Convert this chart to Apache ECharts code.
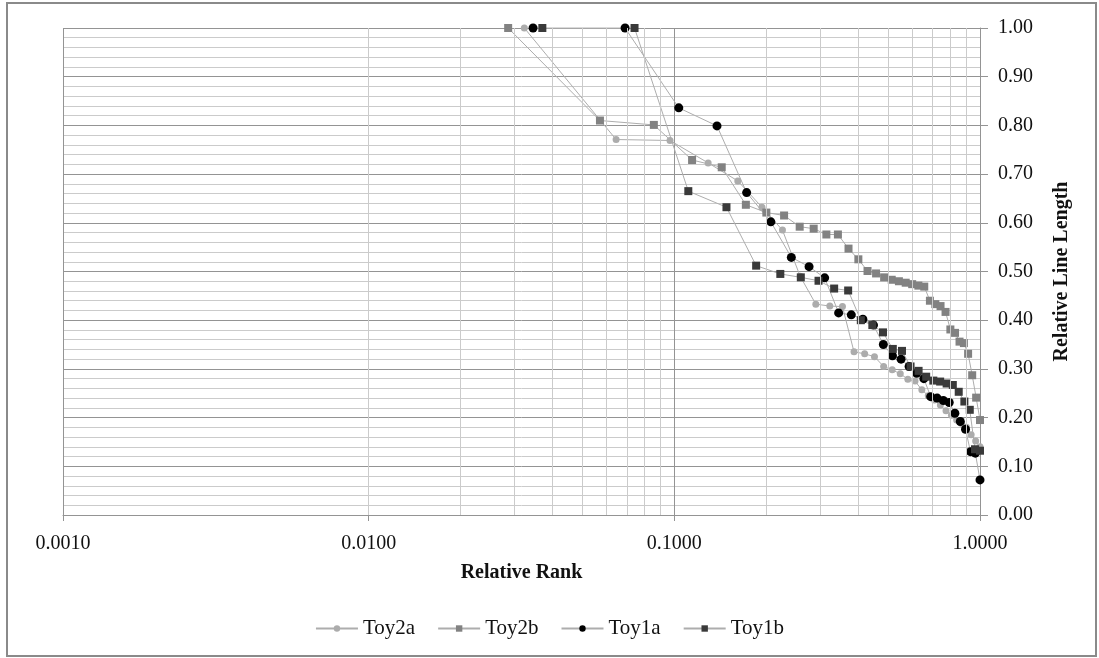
<!DOCTYPE html>
<html>
<head>
<meta charset="utf-8">
<title>Relative Line Length vs Relative Rank</title>
<script src="https://cdn.jsdelivr.net/npm/echarts@6/dist/echarts.min.js"></script>
<style>
  html, body { margin: 0; padding: 0; background: #fff; }
  #chart { width: 1099px; height: 658px; }
</style>
</head>
<body>
<div id="chart"></div>
<script>
// Relative rank (rank / count) for each series
const toy2aRank = [0.0323, 0.0645, 0.0968, 0.1290, 0.1613, 0.1935, 0.2258, 0.2581, 0.2903, 0.3226,
  0.3548, 0.3871, 0.4194, 0.4516, 0.4839, 0.5161, 0.5484, 0.5806, 0.6129, 0.6452,
  0.6774, 0.7097, 0.7419, 0.7742, 0.8065, 0.8387, 0.8710, 0.9032, 0.9355, 0.9677, 1.0000];
const toy2aLength = [1.00, 0.771, 0.769, 0.723, 0.686, 0.632, 0.585, 0.490, 0.433, 0.429,
  0.428, 0.335, 0.331, 0.325, 0.305, 0.298, 0.290, 0.279, 0.275, 0.257,
  0.245, 0.236, 0.226, 0.214, 0.205, 0.195, 0.188, 0.180, 0.165, 0.152, 0.140];

const toy2bRank = [0.0286, 0.0571, 0.0857, 0.1143, 0.1429, 0.1714, 0.2000, 0.2286, 0.2571, 0.2857,
  0.3143, 0.3429, 0.3714, 0.4000, 0.4286, 0.4571, 0.4857, 0.5143, 0.5429, 0.5714,
  0.6000, 0.6286, 0.6571, 0.6857, 0.7143, 0.7429, 0.7714, 0.8000, 0.8286, 0.8571,
  0.8857, 0.9143, 0.9429, 0.9714, 1.0000];
const toy2bLength = [1.00, 0.810, 0.801, 0.729, 0.714, 0.637, 0.621, 0.615, 0.592, 0.588,
  0.576, 0.576, 0.547, 0.525, 0.501, 0.496, 0.488, 0.483, 0.480, 0.477,
  0.474, 0.471, 0.469, 0.440, 0.433, 0.429, 0.417, 0.381, 0.374, 0.356,
  0.353, 0.331, 0.287, 0.241, 0.195];

const toy1aRank = [0.0345, 0.0690, 0.1034, 0.1379, 0.1724, 0.2069, 0.2414, 0.2759, 0.3103, 0.3448,
  0.3793, 0.4138, 0.4483, 0.4828, 0.5172, 0.5517, 0.5862, 0.6207, 0.6552, 0.6897,
  0.7241, 0.7586, 0.7931, 0.8276, 0.8621, 0.8966, 0.9310, 0.9655, 1.0000];
const toy1aLength = [1.00, 1.00, 0.836, 0.799, 0.662, 0.602, 0.529, 0.510, 0.487, 0.415,
  0.411, 0.402, 0.390, 0.350, 0.327, 0.320, 0.305, 0.291, 0.280, 0.243,
  0.240, 0.235, 0.231, 0.209, 0.192, 0.176, 0.130, 0.127, 0.072];

const toy1bRank = [0.0370, 0.0741, 0.1111, 0.1481, 0.1852, 0.2222, 0.2593, 0.2963, 0.3333, 0.3704,
  0.4074, 0.4444, 0.4815, 0.5185, 0.5556, 0.5926, 0.6296, 0.6667, 0.7037, 0.7407,
  0.7778, 0.8148, 0.8519, 0.8889, 0.9259, 0.9630, 1.0000];
const toy1bLength = [1.00, 1.00, 0.665, 0.632, 0.512, 0.495, 0.488, 0.481, 0.465, 0.461,
  0.400, 0.390, 0.375, 0.341, 0.337, 0.305, 0.296, 0.284, 0.276, 0.274,
  0.270, 0.267, 0.253, 0.233, 0.216, 0.135, 0.132];

const seriesNames = ['Toy2a', 'Toy2b', 'Toy1a', 'Toy1b'];

// Minor vertical grid positions on the log axis (2..9 within each decade)
const minorRankTicks = [0.002, 0.003, 0.004, 0.005, 0.006, 0.007, 0.008, 0.009,
  0.02, 0.03, 0.04, 0.05, 0.06, 0.07, 0.08, 0.09,
  0.2, 0.3, 0.4, 0.5, 0.6, 0.7, 0.8, 0.9];

const FONT = '"Liberation Serif", "Times New Roman", serif';
const LINK = '#adadad';
const MAJOR = '#949494';
const MINOR = '#cbcbcb';

function pairs(xs, ys) { return xs.map((x, i) => [x, ys[i]]); }

function makeSeries(name, xs, ys, symbol, size, color) {
  return {
    name: name,
    type: 'line',
    data: pairs(xs, ys),
    symbol: symbol,
    symbolSize: size,
    showSymbol: true,
    z: 3,
    lineStyle: { color: LINK, width: 1 },
    itemStyle: { color: color, borderWidth: 0 },
    emphasis: { disabled: true },
    animation: false
  };
}

const chart = echarts.init(document.getElementById('chart'), null, { renderer: 'canvas' });

chart.setOption({
  backgroundColor: '#ffffff',
  animation: false,
  graphic: [{
    type: 'rect',
    shape: { x: 7, y: 3, width: 1089, height: 653 },
    style: { fill: 'none', stroke: '#8a8a8a', lineWidth: 2 },
    silent: true,
    z: -10
  }],
  grid: { left: 63, right: 119, top: 28, bottom: 143, containLabel: false },
  legend: {
    data: seriesNames,
    bottom: 14,
    left: 'center',
    itemWidth: 42,
    itemHeight: 8,
    itemGap: 22,
    textStyle: { fontFamily: FONT, fontSize: 21, color: '#111' }
  },
  xAxis: {
    type: 'log',
    logBase: 10,
    min: 0.001,
    max: 1,
    name: 'Relative Rank',
    nameLocation: 'middle',
    nameGap: 48,
    nameTextStyle: { fontFamily: FONT, fontSize: 20, fontWeight: 'bold', color: '#111' },
    axisLine: { show: true, onZero: false, lineStyle: { color: MAJOR, width: 1 } },
    axisTick: { show: true, length: 6, lineStyle: { color: MAJOR } },
    axisLabel: {
      fontFamily: FONT, fontSize: 20, color: '#111', margin: 19,
      formatter: v => Number(v).toFixed(4)
    },
    splitLine: { show: true, lineStyle: { color: MAJOR, width: 1 } }
  },
  yAxis: {
    type: 'value',
    position: 'right',
    min: 0,
    max: 1,
    interval: 0.1,
    name: 'Relative Line Length',
    nameLocation: 'middle',
    nameGap: 72,
    nameRotate: 90,
    nameTextStyle: { fontFamily: FONT, fontSize: 20, fontWeight: 'bold', color: '#111' },
    axisLine: { show: true, lineStyle: { color: MAJOR, width: 1 } },
    axisTick: { show: true, inside: false, length: 8, lineStyle: { color: MAJOR } },
    axisLabel: {
      fontFamily: FONT, fontSize: 20, color: '#111', margin: 18,
      formatter: v => Number(v).toFixed(2)
    },
    splitLine: { show: true, lineStyle: { color: MAJOR, width: 1 } },
    minorTick: { show: false, splitNumber: 5 },
    minorSplitLine: { show: true, lineStyle: { color: MINOR, width: 1 } }
  },
  series: [
    {
      name: 'minor-grid',
      type: 'line',
      data: [],
      silent: true,
      z: 1,
      animation: false,
      markLine: {
        silent: true,
        symbol: ['none', 'none'],
        label: { show: false },
        animation: false,
        lineStyle: { color: MINOR, width: 1, type: 'solid' },
        emphasis: { disabled: true },
        data: minorRankTicks.map(v => ({ xAxis: v }))
      }
    },
    makeSeries('Toy2a', toy2aRank, toy2aLength, 'circle', 7, '#acacac'),
    makeSeries('Toy2b', toy2bRank, toy2bLength, 'rect', 8, '#828282'),
    makeSeries('Toy1a', toy1aRank, toy1aLength, 'circle', 9, '#000000'),
    makeSeries('Toy1b', toy1bRank, toy1bLength, 'rect', 8, '#3a3a3a')
  ]
});
</script>
</body>
</html>
